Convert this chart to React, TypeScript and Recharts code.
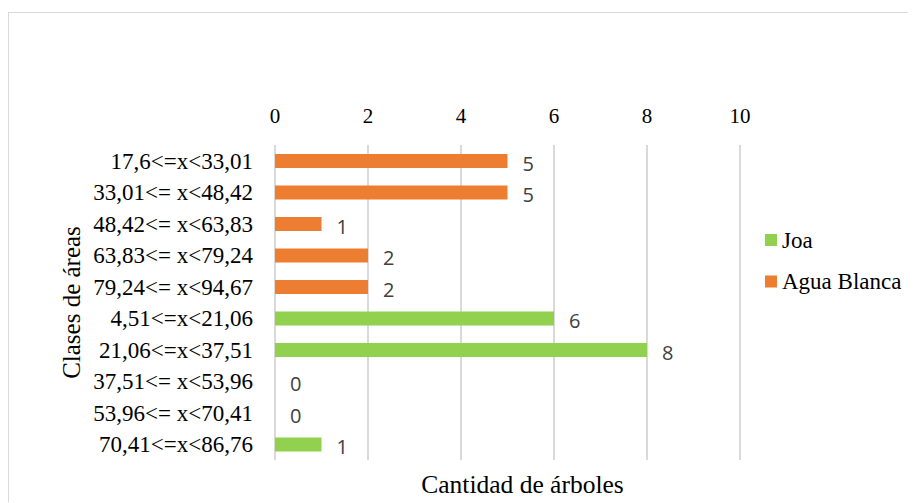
import { Bar, BarChart, CartesianGrid, LabelList, Legend, XAxis, YAxis } from 'recharts';

const categories = [
  '17,6<=x<33,01',
  '33,01<= x<48,42',
  '48,42<= x<63,83',
  '63,83<= x<79,24',
  '79,24<= x<94,67',
  '4,51<=x<21,06',
  '21,06<=x<37,51',
  '37,51<= x<53,96',
  '53,96<= x<70,41',
  '70,41<=x<86,76',
];
const joa = [null, null, null, null, null, 6, 8, 0, 0, 1];
const aguaBlanca = [5, 5, 1, 2, 2, null, null, null, null, null];
const xTicks = [0, 2, 4, 6, 8, 10];
const seriesNames = ['Joa', 'Agua Blanca'];

const data = categories.map((c, i) => ({ c, joa: joa[i], agua: aguaBlanca[i] }));

const serif = '"Liberation Serif", "Times New Roman", serif';
const sans = '"Open Sans", Calibri, sans-serif';
const green = '#92D050';
const orange = '#ED7D31';
const legendItems = [
  { name: seriesNames[0], color: green },
  { name: seriesNames[1], color: orange },
];

function LegendBox() {
  return (
    <svg width={150} height={84} style={{ display: 'block' }}>
      {legendItems.map((p, i) => (
        <g key={p.name} transform={`translate(0 ${15 + i * 41.5})`}>
          <rect x={0} y={-6} width={12} height={12} fill={p.color} />
          <text x={17} y={0} dominantBaseline="central" fontFamily={serif} fontSize={23} fill="#000">
            {p.name}
          </text>
        </g>
      ))}
    </svg>
  );
}

function YTitle({ viewBox }: any) {
  const cy = viewBox.y + viewBox.height / 2;
  return (
    <text x={62} y={cy} transform={`rotate(-90 62 ${cy})`} textAnchor="middle" dominantBaseline="central"
      fontFamily={serif} fontSize={25} fill="#000">
      Clases de áreas
    </text>
  );
}

function ValueLabel({ x, y, width, height, value }: any) {
  if (value === null || value === undefined) return null;
  const w = value === 0 ? 0 : width;
  return (
    <text x={x + w + 15} y={y + height / 2 + 2} dominantBaseline="central" fontFamily={sans} fontSize={20} fill="#404040">
      {value}
    </text>
  );
}

// keep zero-value bars in the rectangle list so their labels still render
const zeroSize = (v: any) => (v === 0 ? 0.001 : 0);

export default function App() {
  return (
    <div style={{ position: 'relative', top: 4, width: 908, height: 492, border: '1px solid #d9d9d9', background: '#fff' }}>
      <BarChart
        width={908}
        height={490}
        data={data}
        layout="vertical"
        margin={{ top: 102, right: 177, bottom: 43, left: 0 }}
        barGap={-14}
      >
        <CartesianGrid horizontal={false} stroke="#d9d9d9" strokeWidth={2} />
        <XAxis
          type="number"
          orientation="top"
          domain={[0, 10]}
          ticks={xTicks}
          axisLine={false}
          tickLine={false}
          tickSize={0}
          tickMargin={22}
          height={30}
          tick={{ fontFamily: serif, fontSize: 21, fill: '#000' }}
        />
        <YAxis
          type="category"
          dataKey="c"
          width={266}
          axisLine={false}
          tickLine={false}
          tickSize={0}
          tickMargin={22}
          interval={0}
          tick={{ fontFamily: serif, fontSize: 23, fill: '#000' }}
          label={{ content: YTitle }}
        />
        <Legend
          layout="vertical"
          align="center"
          verticalAlign="middle"
          content={LegendBox}
          wrapperStyle={{ left: 756, top: 212, width: 150 }}
        />
        <Bar dataKey="joa" name="Joa" fill={green} barSize={14} minPointSize={zeroSize} isAnimationActive={false}>
          <LabelList dataKey="joa" content={ValueLabel} />
        </Bar>
        <Bar dataKey="agua" name="Agua Blanca" fill={orange} barSize={14} isAnimationActive={false}>
          <LabelList dataKey="agua" content={ValueLabel} />
        </Bar>
      </BarChart>
      <div style={{ position: 'absolute', left: 363.5, width: 300, top: 459, textAlign: 'center', fontFamily: serif, fontSize: 25.5, lineHeight: '25px', color: '#000' }}>
        Cantidad de árboles
      </div>
    </div>
  );
}
